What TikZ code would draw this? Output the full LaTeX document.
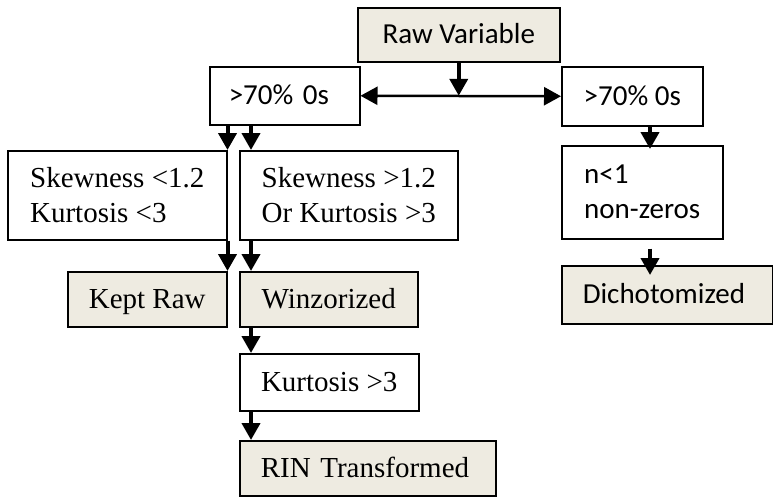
\documentclass[tikz,border=0pt]{standalone}
\usepackage{fontspec}
\setmainfont{Liberation Serif}
\newfontfamily\calfont{Carlito}
\usetikzlibrary{arrows.meta}
\usetikzlibrary{positioning}
\definecolor{boxfill}{HTML}{EEEBE1}
\tikzset{box/.style = {draw, line width=1.5pt, anchor=north west, align=left, inner xsep=0pt, inner ysep=0pt, font=\fontsize{29}{35}\selectfont}}
\tikzset{single/.style = {text height=21pt, text depth=3pt}}
\tikzset{cal/.style = {font=\calfont\fontsize{29}{35}\selectfont}}
\tikzset{result/.style = {box, single, fill=boxfill}}
\tikzset{flow/.style = {line width=4pt, -{Triangle[length=17pt,width=18pt]}}}
\tikzset{split/.style = {line width=2.5pt, {Triangle[length=17pt,width=18pt]}-{Triangle[length=17pt,width=18pt]}}}

\begin{document}
\begin{tikzpicture}[x=1pt,y=-1pt]
        \useasboundingbox (0,0) rectangle (773,496);
        \node[result, cal, minimum width=202pt, minimum height=54pt] (raw) at (357,7) {Raw Variable};
        \node[box, single, cal, inner xsep=19pt, text width=112pt, minimum height=58pt] (zl) at (209,66) {>70\% 0s};
        \node[box, single, cal, minimum width=141pt, minimum height=59pt] (zr) at (561,66) {>70\% 0s};
        \node[box, minimum width=219pt, minimum height=89pt] (skl) at (7,150) {Skewness <1.2\\Kurtosis <3};
        \node[box, minimum width=218pt, minimum height=89pt] (skh) at (239,150) {Skewness >1.2\\Or Kurtosis >3};
        \node[result, minimum width=159pt, minimum height=55pt] (kept) at (67,271) {Kept Raw};
        \node[result, minimum width=178pt, minimum height=55pt] (win) at (239,271) {Winzorized};
        \node[box, single, minimum width=179pt, minimum height=57pt] (kurt) at (239,353) {Kurtosis >3};
        \node[result, inner xsep=21pt, text width=214pt, minimum height=55pt] (rin) at (239,440) {RIN Transformed};
        \node[box, cal, minimum width=161pt, minimum height=93pt] (nz) at (561,145) {n<1\\non-zeros};
        \node[result, cal, inner xsep=21pt, text width=169pt, minimum height=58pt] (dich) at (561,265) {Dichotomized};
        % top split
        \draw[flow] (raw.south) -- (raw.south |- zl.east);
        \draw[split] (zl.east) -- (zr.west);
        % left branch
        \draw[flow] (skl.north east |- zl.south) -- (skl.north east);
        \draw[flow] ([xshift=12pt]skh.north west |- zl.south) -- ([xshift=12pt]skh.north west);
        \draw[flow] (skl.south east) -- (kept.north east);
        \draw[flow] ([xshift=12pt]skh.south west) -- ([xshift=12pt]win.north west);
        \draw[flow] ([xshift=12pt]win.south west) -- ([xshift=12pt]kurt.north west);
        \draw[flow] ([xshift=12pt]kurt.south west) -- ([xshift=12pt]rin.north west);
        % right branch
        \draw[flow, shorten >=-4pt] ([xshift=89pt]nz.north west |- zr.south) -- ([xshift=89pt]nz.north west);
        \draw[flow, shorten <=9pt, shorten >=-10pt] ([xshift=89pt]nz.south west) -- ([xshift=89pt]dich.north west);
    \end{tikzpicture}
\end{document}
